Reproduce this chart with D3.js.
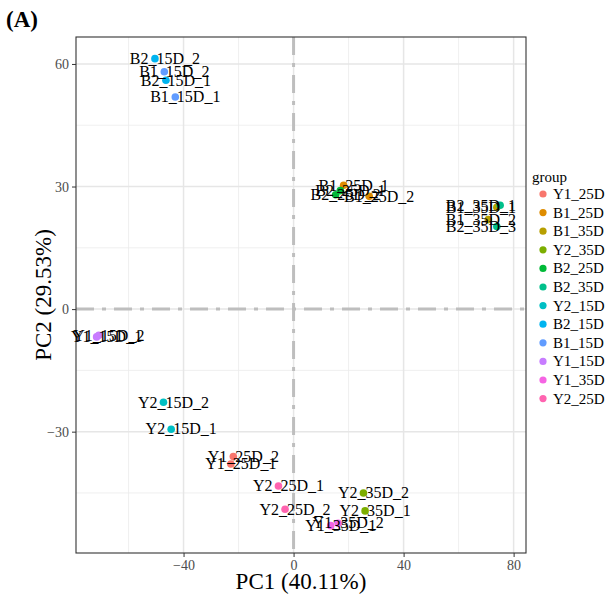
<!DOCTYPE html>
<html>
<head>
<meta charset="utf-8">
<script src="https://cdn.jsdelivr.net/npm/d3@7"></script>
<style>
  body { margin: 0; background: #fff; }
  svg text { font-family: "Liberation Serif", "Times New Roman", serif; }
</style>
</head>
<body>
<svg width="612" height="596"></svg>
<script>
// sample names, group of each sample, PCA scores
var samples = ["Y1_25D_1","Y1_25D_2","B1_25D_1","B1_25D_2","B1_35D_1","B1_35D_2",
               "Y2_35D_1","Y2_35D_2","B2_25D_1","B2_25D_2","B2_35D_1","B2_35D_3",
               "Y2_15D_1","Y2_15D_2","B2_15D_1","B2_15D_2","B1_15D_1","B1_15D_2",
               "Y1_15D_1","Y1_15D_2","Y1_35D_1","Y1_35D_2","Y2_25D_1","Y2_25D_2"];
var sampleGroup = ["Y1_25D","Y1_25D","B1_25D","B1_25D","B1_35D","B1_35D",
                   "Y2_35D","Y2_35D","B2_25D","B2_25D","B2_35D","B2_35D",
                   "Y2_15D","Y2_15D","B2_15D","B2_15D","B1_15D","B1_15D",
                   "Y1_15D","Y1_15D","Y1_35D","Y1_35D","Y2_25D","Y2_25D"];
var pc1 = [-22.8,-21.9,18.2,27.5,73.9,70.8,
           26.0,25.4,17.0,15.3,75.1,73.9,
           -44.5,-47.3,-46.4,-50.4,-43.0,-47.0,
           -71.6,-70.8,13.5,16.2,-5.5,-3.1];
var pc2 = [-37.9,-36.1,30.3,27.6,24.9,21.9,
           -49.4,-45.0,29.0,28.0,25.4,20.2,
           -29.4,-22.8,56.0,61.3,51.9,58.1,
           -6.8,-6.4,-53.0,-52.4,-43.3,-49.0];

var groups = ["Y1_25D","B1_25D","B1_35D","Y2_35D","B2_25D","B2_35D",
              "Y2_15D","B2_15D","B1_15D","Y1_15D","Y1_35D","Y2_25D"];
var groupColors = ["#F8766D","#DE8C00","#B79F00","#7CAE00","#00BA38","#00C08B",
                   "#00BFC4","#00B4F0","#619CFF","#C77CFF","#F564E3","#FF64B0"];

var xTicks = [-40, 0, 40, 80];
var xMinor = [-60, -20, 20, 60];
var yTicks = [-30, 0, 30, 60];
var yMinor = [-45, -15, 15, 45];

var data = samples.map(function(s, i) {
  return {name: s, group: sampleGroup[i], x: pc1[i], y: pc2[i]};
});

var svg = d3.select("svg");
var pLeft = 76, pRight = 526, pTop = 37, pBottom = 553;

var x = d3.scaleLinear().domain([-79.1, 84.5]).range([pLeft, pRight]);
var y = d3.scaleLinear().domain([-59.7, 66.6]).range([pBottom, pTop]);
var color = d3.scaleOrdinal().domain(groups).range(groupColors);

// grid
var grid = svg.append("g");
grid.selectAll(".xminor").data(xMinor).enter().append("line")
    .attr("x1", function(d) {return x(d);}).attr("x2", function(d) {return x(d);})
    .attr("y1", pTop).attr("y2", pBottom)
    .attr("stroke", "#EBEBEB").attr("stroke-width", 0.8);
grid.selectAll(".yminor").data(yMinor).enter().append("line")
    .attr("y1", function(d) {return y(d);}).attr("y2", function(d) {return y(d);})
    .attr("x1", pLeft).attr("x2", pRight)
    .attr("stroke", "#EBEBEB").attr("stroke-width", 0.8);
grid.selectAll(".xmajor").data(xTicks).enter().append("line")
    .attr("x1", function(d) {return x(d);}).attr("x2", function(d) {return x(d);})
    .attr("y1", pTop).attr("y2", pBottom)
    .attr("stroke", "#E6E6E6").attr("stroke-width", 1.5);
grid.selectAll(".ymajor").data(yTicks).enter().append("line")
    .attr("y1", function(d) {return y(d);}).attr("y2", function(d) {return y(d);})
    .attr("x1", pLeft).attr("x2", pRight)
    .attr("stroke", "#E6E6E6").attr("stroke-width", 1.5);

// zero lines
svg.append("line")
    .attr("x1", x(0)).attr("x2", x(0)).attr("y1", pTop).attr("y2", pBottom)
    .attr("stroke", "#BEBEBE").attr("stroke-width", 3)
    .attr("stroke-dasharray", "18,8,4,8");
svg.append("line")
    .attr("y1", y(0)).attr("y2", y(0)).attr("x1", pLeft).attr("x2", pRight)
    .attr("stroke", "#BEBEBE").attr("stroke-width", 3)
    .attr("stroke-dasharray", "18,8,4,8");

// axes
var xAxis = svg.append("g")
    .attr("transform", "translate(0," + pBottom + ")")
    .call(d3.axisBottom(x).tickValues(xTicks).tickSize(4).tickPadding(3)
          .tickFormat(function(d) {return d < 0 ? "\u2212" + (-d) : d;}));
var yAxis = svg.append("g")
    .attr("transform", "translate(" + pLeft + ",0)")
    .call(d3.axisLeft(y).tickValues(yTicks).tickSize(4).tickPadding(3)
          .tickFormat(function(d) {return d < 0 ? "\u2212" + (-d) : d;}));
[xAxis, yAxis].forEach(function(a) {
  a.attr("font-family", null).attr("font-size", null);
  a.select(".domain").remove();
  a.selectAll(".tick line").attr("stroke", "#333333");
  a.selectAll(".tick text").attr("fill", "#4D4D4D").style("font-size", "14px");
});

// panel border
svg.append("rect")
    .attr("x", pLeft).attr("y", pTop)
    .attr("width", pRight - pLeft).attr("height", pBottom - pTop)
    .attr("fill", "none").attr("stroke", "#333333").attr("stroke-width", 1.1);

// points
svg.selectAll(".pt").data(data).enter().append("circle")
    .attr("class", "pt")
    .attr("cx", function(d) {return x(d.x);})
    .attr("cy", function(d) {return y(d.y);})
    .attr("r", 3.8)
    .attr("fill", function(d) {return color(d.group);});

// labels
svg.selectAll(".lab").data(data).enter().append("text")
    .attr("class", "lab")
    .attr("x", function(d) {return x(d.x) + 10;})
    .attr("y", function(d) {return y(d.y);})
    .attr("dy", "0.33em")
    .attr("text-anchor", "middle")
    .style("font-size", "16px")
    .text(function(d) {return d.name;})
    .each(function() {
      var b = this.getBBox();
      if (b.x + b.width > pRight - 10) {
        d3.select(this).attr("x", +d3.select(this).attr("x") - (b.x + b.width - (pRight - 10)));
      }
    });

// axis titles
svg.append("text")
    .attr("x", (pLeft + pRight) / 2).attr("y", 589)
    .attr("text-anchor", "middle")
    .style("font-size", "23px")
    .text("PC1 (40.11%)");
svg.append("text")
    .attr("transform", "translate(51," + (pTop + pBottom) / 2 + ") rotate(-90)")
    .attr("text-anchor", "middle")
    .style("font-size", "23px")
    .text("PC2 (29.53%)");

// panel tag
svg.append("text")
    .attr("x", 6).attr("y", 27)
    .style("font-size", "23px").style("font-weight", "bold")
    .text("(A)");

// legend
var legend = svg.append("g");
legend.append("text")
    .attr("x", 532).attr("y", 182)
    .style("font-size", "15px")
    .text("group");
var item = legend.selectAll(".item").data(groups).enter().append("g")
    .attr("transform", function(d, i) {return "translate(0," + (194 + i * 18.6) + ")";});
item.append("circle")
    .attr("cx", 543).attr("cy", 0).attr("r", 3.6)
    .attr("fill", function(d) {return color(d);});
item.append("text")
    .attr("x", 553).attr("y", 0).attr("dy", "0.33em")
    .style("font-size", "15px")
    .text(function(d) {return d;});
</script>
</body>
</html>
